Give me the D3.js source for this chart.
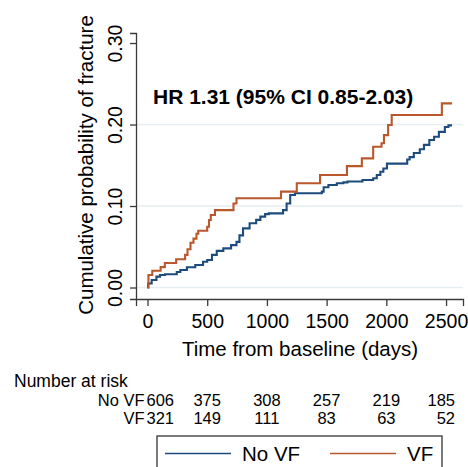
<!DOCTYPE html>
<html><head><meta charset="utf-8">
<script src="https://cdn.jsdelivr.net/npm/d3@7"></script>
<style>
html,body{margin:0;padding:0;background:#fff;}
text{font-family:"Liberation Sans",Arial,sans-serif;fill:#000;}
</style></head>
<body><svg id="c" width="468" height="467"></svg>
<script>
// ---- data ----
const noVFTimes = [0,5,35,75,105,147,245,275,330,400,465,500,540,580,635,700,745,770,800,855,910,945,985,1015,1135,1165,1195,1235,1460,1475,1515,1585,1640,1675,1800,1890,1920,1950,1975,2005,2175,2195,2230,2280,2315,2360,2400,2440,2490,2520,2550];
const noVFProb  = [0,0.005,0.0092,0.0133,0.0153,0.0162,0.019,0.0215,0.0248,0.0276,0.0317,0.0337,0.040,0.045,0.048,0.052,0.056,0.064,0.0726,0.0788,0.083,0.087,0.090,0.091,0.095,0.103,0.1135,0.1156,0.1176,0.123,0.1258,0.128,0.129,0.130,0.132,0.134,0.138,0.142,0.146,0.152,0.157,0.160,0.165,0.1696,0.175,0.181,0.185,0.191,0.197,0.199,0.199];
const vfTimes = [0,8,40,110,145,240,315,335,360,385,410,425,500,515,530,565,720,745,1118,1250,1445,1670,1795,1890,1960,1980,2015,2045,2465,2550];
const vfProb  = [0,0.0153,0.0206,0.025,0.030,0.0346,0.040,0.047,0.055,0.060,0.066,0.0697,0.0746,0.0828,0.089,0.095,0.103,0.1095,0.1176,0.128,0.138,0.149,0.1585,0.1728,0.177,0.187,0.1994,0.2117,0.226,0.226];
const xTicks = [0,500,1000,1500,2000,2500];
const yTicks = [0,0.1,0.2,0.3];
const gridTicks = [0,0.1,0.2];
const groups = ["No VF","VF"];
const riskNoVF = [606,375,308,257,219,185];
const riskVF = [321,149,111,83,63,52];
const hrLabel = "HR 1.31 (95% CI 0.85-2.03)";
const colors = ["#1d4c7c","#b8582c"];

// ---- layout ----
const svg = d3.select("#c");
const x = d3.scaleLinear().domain([-96.3, 2642]).range([136, 463]);
const y = d3.scaleLinear().domain([-0.0141, 0.3123]).range([299, 33]);
const axisCol = "#3a3a3a";

// gridlines
svg.append("g").selectAll("line").data(gridTicks).join("line")
  .attr("x1", x.range()[0]).attr("x2", x.range()[1])
  .attr("y1", d => y(d)).attr("y2", d => y(d))
  .attr("stroke", "#e6eef1").attr("stroke-width", 1.6);

// y axis
const ya = svg.append("g").attr("transform", "translate(136,0)")
  .call(d3.axisLeft(y).tickValues(yTicks).tickSize(6).tickFormat(d3.format(".2f")));
ya.select(".domain").attr("stroke", axisCol).attr("stroke-width", 1.3);
ya.selectAll(".tick line").attr("stroke", axisCol).attr("stroke-width", 1.3);
ya.selectAll(".tick text")
  .attr("x", 0).attr("y", 0).attr("dy", null)
  .attr("transform", "translate(-14,0) rotate(-90)")
  .attr("text-anchor", "middle")
  .style("font-size", "19.5px").style("font-family", '"Liberation Sans",Arial,sans-serif').attr("fill", "#000");

// x axis
const xa = svg.append("g").attr("transform", "translate(0,299)")
  .call(d3.axisBottom(x).tickValues(xTicks).tickSize(7).tickFormat(d3.format("d")));
xa.select(".domain").attr("stroke", axisCol).attr("stroke-width", 1.3);
xa.selectAll(".tick line").attr("stroke", axisCol).attr("stroke-width", 1.3);
xa.selectAll(".tick text").attr("y", 29).attr("dy", null)
  .style("font-size", "19.5px").style("font-family", '"Liberation Sans",Arial,sans-serif').attr("fill", "#000");

// axis titles
svg.append("text").attr("transform", "translate(93,165) rotate(-90)")
  .attr("text-anchor", "middle").style("font-size", "20.5px")
  .text("Cumulative probability of fracture");
svg.append("text").attr("x", 300).attr("y", 356)
  .attr("text-anchor", "middle").style("font-size", "20.5px")
  .text("Time from baseline (days)");

// curves
const line = d3.line().x(d => x(d[0])).y(d => y(d[1])).curve(d3.curveStepAfter);
const series = [d3.zip(noVFTimes, noVFProb), d3.zip(vfTimes, vfProb)];
svg.append("g").selectAll("path").data(series).join("path")
  .attr("d", line).attr("fill", "none")
  .attr("stroke", (d, i) => colors[i]).attr("stroke-width", 2.1);

// HR annotation
svg.append("text").attr("x", 153).attr("y", 104)
  .style("font-size", "21px").style("font-weight", "bold").text(hrLabel);

// risk table
svg.append("text").attr("x", 14).attr("y", 387).style("font-size", "17.5px").text("Number at risk");
const rows = [riskNoVF, riskVF];
const rowY = [406, 424];
rows.forEach((vals, r) => {
  svg.append("text").attr("x", x(0) - 3).attr("y", rowY[r])
    .attr("text-anchor", "end").style("font-size", "16.5px").text(groups[r]);
  svg.append("g").selectAll("text").data(vals).join("text")
    .attr("x", (d, i) => i === 0 ? x(xTicks[i]) - 1 : (i === vals.length - 1 ? x(xTicks[i]) + 9 : x(xTicks[i])))
    .attr("y", rowY[r])
    .attr("text-anchor", (d, i) => i === 0 ? "start" : (i === vals.length - 1 ? "end" : "middle"))
    .style("font-size", "16.5px").text(d => d);
});

// legend
svg.append("rect").attr("x", 157).attr("y", 436).attr("width", 285).attr("height", 45)
  .attr("fill", "#fff").attr("stroke", "#333").attr("stroke-width", 1.3);
const legX = [165, 330];
groups.forEach((g, i) => {
  svg.append("line").attr("x1", legX[i]).attr("x2", legX[i] + 66)
    .attr("y1", 453.5).attr("y2", 453.5).attr("stroke", colors[i]).attr("stroke-width", 1.6);
  svg.append("text").attr("x", legX[i] + 77).attr("y", 461)
    .style("font-size", "20.5px").text(g);
});
</script></body></html>
